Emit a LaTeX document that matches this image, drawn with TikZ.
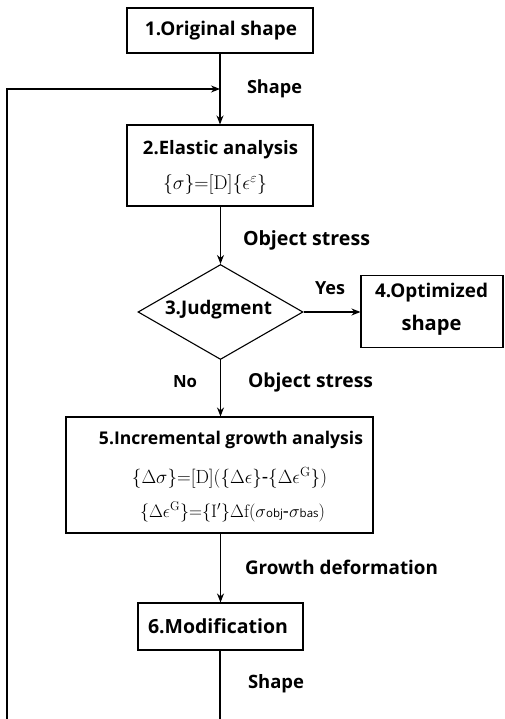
\documentclass[tikz,border=0pt]{standalone}
\usepackage[no-math]{fontspec}
\usepackage{graphicx}
\setmainfont{Open Sans}
\usetikzlibrary{shapes.geometric,arrows.meta}
\newcommand\fitw[2]{\resizebox{#1pt}{!}{#2}}
\tikzset{
  box/.style={draw, line width=1.1pt, inner sep=0pt},
  lbl/.style={inner sep=0pt, font=\bfseries\fontsize{18}{22}\selectfont},
  fml/.style={inner sep=0pt, font=\fontsize{18}{20}\selectfont},
  conn/.style={line width=1.1pt},
  arr/.style={line width=1.1pt, -{Stealth[length=9pt,width=7pt]}}
}
\begin{document}
\begin{tikzpicture}[x=1pt,y=-1pt]
\useasboundingbox (0,0) rectangle (504,719);
% boxes
\node[box, minimum width=186pt, minimum height=45pt] (b1) at (220,30.5) {};
\node[lbl] (b1t) at (221,30.5) {\fitw{152}{1.Original shape}};
\node[box, minimum width=186pt, minimum height=81pt] (b2) at (220,165.5) {};
\node[lbl] (b2t) at (220.5,150) {\fitw{155}{2.Elastic analysis}};
\node[fml] (b2f) at (215,185) {\fitw{104}{$\{\sigma\}{=}[\mathrm{D}]\{\epsilon^{\varepsilon}\}$}};
\node[draw, line width=1.1pt, diamond, minimum width=165pt, minimum height=95pt, inner sep=0pt] (d3) at (220.5,312) {};
\node[lbl] (d3t) at (218.5,310) {\fitw{107}{3.Judgment}};
\node[box, minimum width=142pt, minimum height=72pt] (b4) at (432,311.5) {};
\node[lbl] (b4a) at (431.5,293) {\fitw{113}{4.Optimized}};
\node[lbl] (b4b) at (431.5,325) {\fitw{60}{shape}};
\node[box, minimum width=307pt, minimum height=116pt] (b5) at (219.5,475) {};
\node[lbl] (b5t) at (231,440) {\fitw{264}{5.Incremental growth analysis}};
\node[fml] (b5f) at (229.5,478) {\fitw{195}{$\{\Delta\sigma\}{=}[\mathrm{D}](\{\Delta\epsilon\}\mbox{-}\{\Delta\epsilon^{\mathrm{G}}\})$}};
\node[fml] (b5g) at (232.5,512) {\fitw{185}{$\{\Delta\epsilon^{\mathrm{G}}\}{=}\{\mathrm{I}'\}\Delta\mathrm{f}(\sigma\mbox{\fontsize{11}{11}\selectfont obj}\mbox{-}\sigma\mbox{\fontsize{11}{11}\selectfont bas})$}};
\node[box, minimum width=165pt, minimum height=47pt] (b6) at (220.5,626.5) {};
\node[lbl] (b6t) at (218,626.5) {\fitw{140}{6.Modification}};
% connectors
\coordinate (fbA) at (220,89);
\coordinate (fbC) at (7,89);
\coordinate (fbB) at (7,719);
\coordinate (endM) at (220,719);
\draw[arr] (b1.south -| fbA) -- (b2.north -| fbA);
\draw[arr] (fbB) -- (fbC) -- (fbA);
\draw[arr] (b2.south -| d3.north) -- (d3.north);
\draw[arr] (d3.east) -- (d3.east -| b4.west);
\draw[arr] (d3.south) -- (b5.north -| d3.south);
\draw[arr] (b5.south -| b6.north) -- (b6.north);
\draw[conn] (b6.south -| endM) -- (endM);
% labels
\node[lbl] (l1) at (274.5,89) {\fitw{55}{Shape}};
\node[lbl] (l2) at (306.5,240) {\fitw{127}{Object stress}};
\node[lbl] (l3) at (330,288) {\fitw{30}{Yes}};
\node[lbl] (l4) at (185,382) {\fitw{24}{No}};
\node[lbl] (l5) at (310.5,382) {\fitw{125}{Object stress}};
\node[lbl] (l6) at (341.5,567) {\fitw{193}{Growth deformation}};
\node[lbl] (l7) at (276,684) {\fitw{56}{Shape}};
\end{tikzpicture}
\end{document}
